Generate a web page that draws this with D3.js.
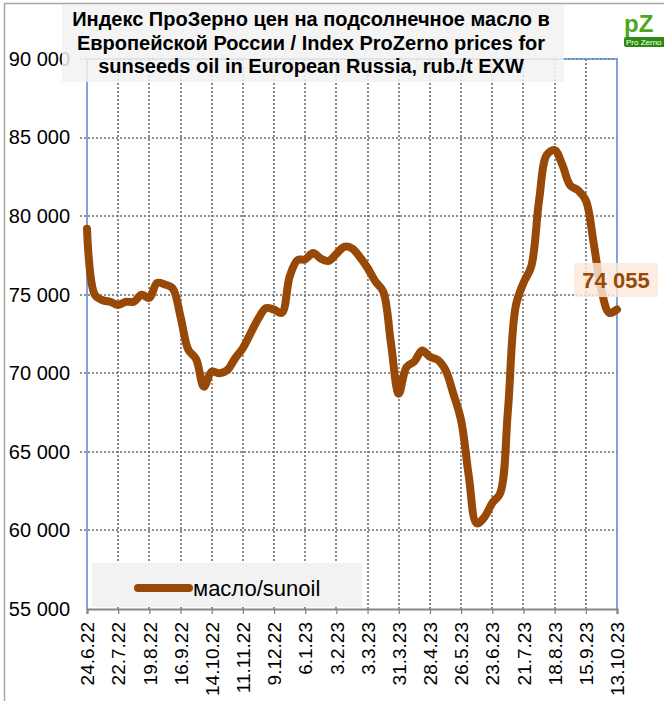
<!DOCTYPE html>
<meta charset="utf-8">
<style>
  body {
    margin: 0;
    background: #fff;
    font-family: "Liberation Sans", Arial, sans-serif;
  }
  text {
    fill: #000;
  }
</style>
<body>
  <script src="https://d3js.org/d3.v7.min.js"></script>
  <script>
    // weekly index values, 24.6.22 .. 13.10.23
    var startDate = "24.6.22";
    var prices = [
      79200, 75000, 74650, 74550, 74350, 74550, 74550, 75000, 74800, 75750,
      75650, 75400, 73600, 71500, 70900, 69150, 70100, 70000, 70200, 70950,
      71600, 72550, 73500, 74150, 74050, 73850, 76150, 77200, 77250, 77650,
      77300, 77150, 77600, 78050, 77950, 77400, 76700, 75850, 75200, 71900,
      68700, 70400, 70750, 71450, 71050, 70850, 70200, 68700, 67000, 63400,
      60450, 60850, 61750, 62350, 67600, 74250, 75750, 76800, 81000, 83900,
      84200, 83250, 81950, 81650, 81000, 78300, 75300, 73850, 74055
    ];
    var tickLabels = ["24.6.22", "22.7.22", "19.8.22", "16.9.22", "14.10.22", "11.11.22",
      "9.12.22", "6.1.23", "3.2.23", "3.3.23", "31.3.23", "28.4.23", "26.5.23",
      "23.6.23", "21.7.23", "18.8.23", "15.9.23", "13.10.23"];
    var yTicks = [55000, 60000, 65000, 70000, 75000, 80000, 85000, 90000];
    var seriesName = "масло/sunoil";
    var titleLines = ["Индекс ПроЗерно цен на подсолнечное масло в",
      "Европейской России / Index ProZerno prices for",
      "sunseeds oil in European Russia, rub./t EXW"];

    var width = 664,
    height = 701;
    var plotL = 87, plotR = 617, plotT = 59, plotB = 609;
    var lineColor = "#984807";

    var parse = d3.timeParse("%d.%m.%y");
    var t0 = parse(startDate);
    var data = prices.map(function(v, i) { return { date: d3.timeWeek.offset(t0, i), value: v }; });
    var tickDates = tickLabels.map(function(s) { return parse(s); });

    var x = d3.scaleTime()
    .domain([data[0].date, data[data.length - 1].date])
    .range([plotL, plotR]);
    var y = d3.scaleLinear()
    .domain([55000, 90000])
    .range([plotB, plotT]);

    var svg = d3.select("body").append("svg")
    .attr("width", width)
    .attr("height", height);

    // outer chart border
    svg.append("rect")
    .attr("x", 4.5).attr("y", 3.5)
    .attr("width", 720).attr("height", 740)
    .attr("fill", "none")
    .attr("stroke", "#a6a6a6")
    .attr("stroke-width", 1.5);

    // grid (dotted)
    var grid = svg.append("g").attr("stroke", "#6e6e6e").attr("stroke-width", 1.6)
    .attr("stroke-dasharray", "2,2");
    grid.selectAll(".h").data(yTicks.slice(1))
    .join("line")
    .attr("x1", plotL - 7).attr("x2", plotR)
    .attr("y1", function(d) { return Math.round(y(d)); })
    .attr("y2", function(d) { return Math.round(y(d)); });
    grid.selectAll(".v").data(tickDates.slice(1, -1))
    .join("line")
    .attr("x1", function(d) { return Math.round(x(d)); })
    .attr("x2", function(d) { return Math.round(x(d)); })
    .attr("y1", plotT).attr("y2", plotB);

    // x axis
    var xAxis = d3.axisBottom(x)
    .tickValues(tickDates)
    .tickSize(5)
    .tickFormat(function(d, i) { return tickLabels[i]; });
    var gx = svg.append("g")
    .attr("transform", "translate(0," + plotB + ")")
    .call(xAxis);
    gx.select(".domain").attr("stroke", "#868686").attr("stroke-width", 2.2);
    gx.selectAll(".tick line").attr("stroke", "#868686").attr("stroke-width", 1.3);
    gx.selectAll(".tick text")
    .attr("font-size", 19)
    .attr("font-family", "'Liberation Sans', Arial, sans-serif")
    .attr("fill", "#000")
    .attr("text-anchor", "end")
    .attr("transform", "rotate(-90)")
    .attr("x", -13).attr("y", 0).attr("dy", "0.35em");

    // y axis labels
    var gy = svg.append("g")
    .attr("transform", "translate(" + plotL + ",0)")
    .call(d3.axisLeft(y).tickValues(yTicks).tickSize(0).tickPadding(17)
      .tickFormat(function(d) { return d3.format(",")(d).replace(",", " "); }));
    gy.select(".domain").remove();
    gy.selectAll(".tick text")
    .attr("font-size", 20)
    .attr("font-family", "'Liberation Sans', Arial, sans-serif")
    .attr("fill", "#000");

    // plot border (blue)
    svg.append("path")
    .attr("d", "M" + plotL + "," + plotB + "V" + plotT + "H" + plotR + "V" + plotB)
    .attr("fill", "none")
    .attr("stroke", "#5b8fd4")
    .attr("stroke-width", 1.6);

    // series line
    var line = d3.line()
    .x(function(d) { return x(d.date); })
    .y(function(d) { return y(d.value); })
    .curve(d3.curveCatmullRom.alpha(0.5));
    svg.append("path")
    .datum(data)
    .attr("d", line)
    .attr("fill", "none")
    .attr("stroke", lineColor)
    .attr("stroke-width", 8)
    .attr("stroke-linecap", "round")
    .attr("stroke-linejoin", "round");

    // last value label
    var last = data[data.length - 1];
    svg.append("rect")
    .attr("x", 574).attr("y", 263)
    .attr("width", 84).attr("height", 34)
    .attr("fill", "#fde9d9")
    .attr("fill-opacity", 0.82);
    svg.append("text")
    .attr("x", 616).attr("y", 288)
    .attr("text-anchor", "middle")
    .attr("font-size", 22)
    .attr("font-weight", "bold")
    .style("fill", lineColor)
    .text(d3.format(",")(last.value).replace(",", " "));

    // legend
    svg.append("rect")
    .attr("x", 92).attr("y", 563)
    .attr("width", 270).attr("height", 44)
    .attr("fill", "#f2f2f2");
    svg.append("line")
    .attr("x1", 138).attr("x2", 189)
    .attr("y1", 588).attr("y2", 588)
    .attr("stroke", lineColor)
    .attr("stroke-width", 8)
    .attr("stroke-linecap", "round");
    svg.append("text")
    .attr("x", 193).attr("y", 588)
    .attr("dy", "0.35em")
    .attr("font-size", 22)
    .text(seriesName);

    // title
    svg.append("rect")
    .attr("x", 62).attr("y", 5)
    .attr("width", 502).attr("height", 77)
    .attr("fill", "#f2f2f2")
    .attr("fill-opacity", 0.85);
    svg.append("g").selectAll("text")
    .data(titleLines)
    .join("text")
    .attr("x", 311)
    .attr("y", function(d, i) { return 26 + i * 23.5; })
    .attr("text-anchor", "middle")
    .attr("font-size", 20)
    .attr("font-weight", "bold")
    .text(function(d) { return d; });

    // logo (rough)
    var logo = svg.append("g").attr("transform", "translate(624,13)");
    logo.append("text")
    .attr("x", 0).attr("y", 19)
    .attr("font-size", 24).attr("font-weight", "bold")
    .style("fill", "#4aa81c")
    .text("pZ");
    logo.append("rect")
    .attr("y", 24).attr("width", 44).attr("height", 10).attr("rx", 2)
    .attr("fill", "#2f8a12");
    logo.append("text")
    .attr("x", 2).attr("y", 32)
    .attr("font-size", 8)
    .style("fill", "#fff")
    .text("Pro Zerno");
  </script>
</body>
